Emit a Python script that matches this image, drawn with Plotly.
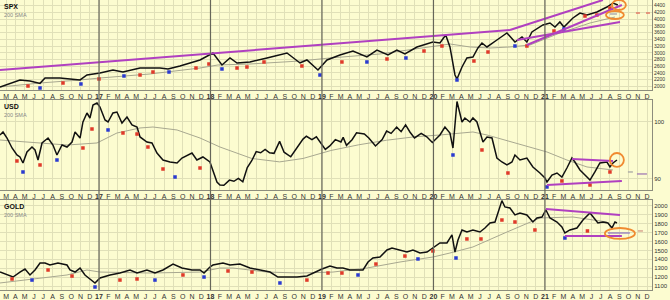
import plotly.graph_objects as go

# ---------------- data (time in decimal years) ----------------
spx_t = [2016.112, 2016.291, 2016.381, 2016.471, 2016.516, 2016.650, 2016.740, 2016.830, 2016.892,
         2017.009, 2017.125, 2017.215, 2017.368, 2017.547, 2017.619, 2017.726, 2017.906,
         2018.022, 2018.103, 2018.175, 2018.238, 2018.354, 2018.507, 2018.686, 2018.803, 2018.865, 2018.964,
         2019.045, 2019.161, 2019.278, 2019.403, 2019.493, 2019.592, 2019.672, 2019.744, 2019.852, 2019.995,
         2020.058, 2020.110, 2020.148, 2020.193, 2020.211, 2020.256, 2020.300, 2020.354, 2020.399, 2020.435,
         2020.480, 2020.569, 2020.659, 2020.731, 2020.794, 2020.838, 2020.883, 2020.982,
         2021.045, 2021.090, 2021.134, 2021.170, 2021.251, 2021.314, 2021.377, 2021.466, 2021.556, 2021.610, 2021.654]
spx_v = [1982, 2191, 2161, 2090, 2250, 2250, 2220, 2191, 2339,
         2399, 2488, 2428, 2547, 2547, 2518, 2607, 2785,
         2993, 2637, 2845, 2696, 2726, 2845, 2993, 2696, 2785, 2488,
         2785, 2934, 3053, 2875, 3082, 2934, 3082, 2964, 3172, 3320,
         3291, 3528, 3172, 2339, 2220, 2577, 2845, 2874, 3142, 3291,
         3172, 3380, 3588, 3320, 3469, 3320, 3618, 3826,
         3885, 3766, 3915, 3766, 4034, 4182, 4123, 4212, 4361, 4480, 4420]
spx_sma_t = [2016.112, 2016.471, 2016.830, 2017.009, 2017.457, 2017.906, 2018.067, 2018.354, 2018.803,
             2019.072, 2019.520, 2019.968, 2020.148, 2020.327, 2020.507, 2020.686, 2020.865,
             2021.134, 2021.404, 2021.628]
spx_sma_v = [1982, 2101, 2191, 2250, 2369, 2547, 2637, 2666, 2755,
             2845, 2964, 3172, 3261, 3172, 3142, 3172, 3231,
             3588, 3885, 4063]

usd_t = [2016.112, 2016.139, 2016.175, 2016.220, 2016.264, 2016.291, 2016.318, 2016.354, 2016.399, 2016.426,
         2016.453, 2016.489, 2016.543, 2016.587, 2016.623, 2016.668, 2016.713, 2016.758, 2016.785, 2016.830,
         2016.856, 2016.892, 2016.919, 2016.946, 2016.982, 2017.009, 2017.054, 2017.081, 2017.125, 2017.161,
         2017.206, 2017.251, 2017.296, 2017.341, 2017.368, 2017.430, 2017.475, 2017.520, 2017.574, 2017.637,
         2017.700, 2017.744, 2017.834, 2017.878, 2017.932, 2017.995, 2018.058, 2018.085,
         2018.12, 2018.17, 2018.21, 2018.25, 2018.29, 2018.33, 2018.37, 2018.41, 2018.45, 2018.49, 2018.53,
         2018.57, 2018.62, 2018.66, 2018.72, 2018.77, 2018.83, 2018.86, 2018.91, 2018.95, 2018.99,
         2019.03, 2019.07, 2019.12, 2019.17, 2019.19, 2019.22, 2019.27, 2019.31, 2019.38, 2019.42, 2019.48,
         2019.54, 2019.58, 2019.62, 2019.67, 2019.71, 2019.75, 2019.79, 2019.83, 2019.89, 2019.94, 2019.99,
         2020.04, 2020.058, 2020.103, 2020.148, 2020.175, 2020.211, 2020.256, 2020.282, 2020.327, 2020.354,
         2020.390, 2020.417, 2020.444, 2020.480, 2020.525, 2020.569, 2020.614, 2020.659, 2020.704, 2020.731,
         2020.776, 2020.838, 2020.892, 2020.955, 2021.000, 2021.018, 2021.063, 2021.108, 2021.152, 2021.197,
         2021.242, 2021.269, 2021.314, 2021.377, 2021.404, 2021.448, 2021.493, 2021.556, 2021.583, 2021.610,
         2021.646]
usd_v = [97.72, 98.25, 97.19, 95.44, 94.21, 93.86, 92.81, 94.74, 95.61, 95.09,
         93.33, 96.32, 97.19, 95.96, 94.21, 95.96, 95.61, 96.49, 98.25, 97.19,
         100.0, 101.58, 100.70, 102.98, 103.33, 102.63, 100.35, 100.0, 101.58, 101.75,
         99.82, 100.88, 99.47, 99.12, 97.37, 96.49, 96.32, 94.56, 93.33, 92.98,
         92.81, 93.68, 94.56, 93.33, 93.86, 92.98, 89.47, 88.95,
         88.9, 89.8, 89.6, 90.1, 89.5, 92.0, 93.2, 94.8, 94.6, 95.2, 94.6,
         94.5, 96.6, 94.7, 93.9, 95.3, 97.0, 97.5, 96.9, 97.4, 96.2,
         95.2, 95.8, 96.9, 96.5, 97.3, 95.9, 96.9, 98.1, 97.9, 97.2, 95.8,
         96.9, 98.4, 98.0, 99.1, 98.3, 99.5, 98.2, 97.2, 98.0, 97.4, 96.4,
         97.3, 97.72, 99.12, 98.07, 95.44, 103.6, 100.0, 100.7, 100.0, 100.7,
         100.0, 98.25, 96.49, 97.37, 97.19, 93.68, 92.98, 92.46, 92.98, 94.21,
         93.33, 93.68, 92.11, 91.05, 90.18, 89.47, 90.70, 91.05, 90.35, 91.93,
         93.68, 92.98, 91.58, 90.35, 89.82, 91.23, 92.81, 92.98, 92.11, 92.81,
         93.33]
usd_sma_t = [2016.112, 2016.713, 2016.982, 2017.161, 2017.368, 2017.484, 2017.700, 2017.906, 2018.085,
             2018.37, 2018.62, 2018.83, 2019.08, 2019.33, 2019.58, 2019.83, 2020.058, 2020.354, 2020.480,
             2020.803, 2021.018, 2021.197, 2021.377, 2021.610]
usd_sma_v = [96.84, 95.96, 96.32, 98.07, 98.95, 99.12, 98.6, 97.19, 95.61,
             93.6, 93.0, 93.6, 95.0, 96.0, 96.8, 97.4, 97.72, 98.25, 97.72,
             95.96, 94.74, 93.33, 92.11, 91.58]

gold_t = [2016.112, 2016.175, 2016.229, 2016.291, 2016.336, 2016.381, 2016.426, 2016.471, 2016.516, 2016.560,
          2016.632, 2016.713, 2016.740, 2016.785, 2016.830, 2016.874, 2016.937, 2016.964, 2017.009, 2017.099,
          2017.188, 2017.278, 2017.341, 2017.430, 2017.502, 2017.574, 2017.664, 2017.744, 2017.834, 2017.906,
          2017.942, 2017.995, 2018.022, 2018.112, 2018.175, 2018.264, 2018.354, 2018.444, 2018.534, 2018.605,
          2018.686, 2018.776, 2018.865, 2018.919, 2019.000, 2019.072, 2019.134, 2019.188, 2019.251, 2019.314,
          2019.368, 2019.413, 2019.457, 2019.520, 2019.583, 2019.628, 2019.700, 2019.762, 2019.816, 2019.879,
          2019.942, 2019.995, 2020.058, 2020.121, 2020.166, 2020.193, 2020.220, 2020.256, 2020.300, 2020.354,
          2020.417, 2020.462, 2020.507, 2020.552, 2020.578, 2020.614, 2020.641, 2020.686, 2020.731, 2020.776,
          2020.838, 2020.892, 2020.928, 2020.973, 2021.009, 2021.045, 2021.108, 2021.152, 2021.179, 2021.224,
          2021.287, 2021.341, 2021.404, 2021.430, 2021.475, 2021.520, 2021.565, 2021.601, 2021.628, 2021.646]
gold_v = [1257, 1224, 1201, 1257, 1291, 1224, 1280, 1359, 1359, 1336,
          1359, 1336, 1280, 1257, 1302, 1224, 1167, 1134, 1190, 1224,
          1246, 1280, 1246, 1280, 1246, 1280, 1347, 1302, 1280, 1280,
          1246, 1314, 1336, 1359, 1336, 1347, 1302, 1280, 1257, 1201,
          1201, 1201, 1212, 1246, 1291, 1325, 1302, 1302, 1280, 1280,
          1280, 1370, 1415, 1426, 1505, 1527, 1505, 1482, 1505, 1471,
          1482, 1527, 1584, 1584, 1674, 1482, 1617, 1730, 1707, 1730,
          1707, 1752, 1809, 1820, 1921, 2060, 1989, 1977, 1899, 1921,
          1899, 1820, 1865, 1876, 1955, 1865, 1820, 1764, 1696, 1730,
          1752, 1842, 1921, 1876, 1809, 1820, 1809, 1752, 1820, 1809]
gold_sma_t = [2016.112, 2016.713, 2016.892, 2017.009, 2017.457, 2017.906, 2018.085, 2018.202, 2018.507,
              2018.803, 2019.099, 2019.403, 2019.700, 2019.995, 2020.148, 2020.354, 2020.659, 2020.955,
              2021.251, 2021.556]
gold_sma_v = [1134, 1224, 1280, 1257, 1246, 1257, 1302, 1302, 1257,
              1246, 1257, 1302, 1370, 1426, 1471, 1539, 1707, 1865,
              1876, 1820]

# pivot markers
spx_red_t = [2016.363, 2016.677, 2017.000, 2017.368, 2017.484, 2017.870, 2017.986, 2018.238, 2018.327, 2018.480,
             2018.820, 2019.179, 2019.583, 2019.915, 2020.076, 2020.363, 2020.489, 2020.838, 2021.081, 2021.359,
             2021.466, 2021.583]
spx_red_v = [2012, 2101, 2220, 2339, 2428, 2547, 2666, 2547, 2577, 2726,
             2607, 2726, 2815, 3053, 3201, 2755, 3023, 3201, 3647, 4093,
             4123, 4331]
spx_blue_t = [2016.471, 2016.838, 2017.224, 2017.628, 2018.103, 2018.982, 2019.403, 2019.753, 2020.211, 2020.731, 2021.170]
spx_blue_v = [1953, 2072, 2310, 2428, 2518, 2339, 2726, 2845, 2191, 3201, 3707]
usd_red_t = [2016.264, 2016.471, 2016.856, 2016.937, 2017.215, 2017.341, 2017.439, 2017.574, 2017.906,
             2020.435, 2020.668, 2021.152, 2021.404, 2021.583]
usd_red_v = [93.16, 92.46, 95.44, 98.77, 98.07, 97.89, 95.61, 91.75, 91.93,
             95.09, 91.05, 89.65, 88.95, 91.23]
usd_blue_t = [2016.318, 2016.623, 2017.081, 2017.682, 2020.175, 2021.018]
usd_blue_v = [91.23, 93.33, 98.6, 90.35, 94.21, 88.6]
gold_red_t = [2016.220, 2016.543, 2016.758, 2017.188, 2017.341, 2017.753, 2018.157, 2018.372, 2018.865,
              2019.054, 2019.179, 2019.484, 2019.744, 2019.995, 2020.300, 2020.426, 2020.614, 2020.731,
              2020.910, 2021.381]
gold_red_v = [1179, 1280, 1212, 1167, 1179, 1224, 1269, 1257, 1167,
              1246, 1246, 1347, 1437, 1494, 1629, 1629, 1842, 1820,
              1730, 1719]
gold_blue_t = [2016.399, 2016.964, 2017.502, 2017.942, 2018.623, 2019.323, 2019.861, 2020.202, 2021.179]
gold_blue_v = [1167, 1089, 1167, 1201, 1134, 1224, 1404, 1415, 1640]

# drawn trendlines: (t0, v0, t1, v1)
spx_lines = [(2016.112, 2488, 2020.686, 3677), (2020.686, 3677, 2021.520, 4569),
             (2020.838, 3231, 2021.690, 4420), (2020.749, 3380, 2021.673, 3915)]
usd_lines = [(2021.242, 93.51, 2021.610, 93.16), (2021.018, 88.95, 2021.690, 89.65)]
gold_lines = [(2021.009, 1966, 2021.673, 1899), (2021.179, 1662, 2021.690, 1662)]
# highlight ellipses: (t0, t1, v0, v1)
spx_ellipses = [(2021.601, 2021.726, 4272, 4569), (2021.547, 2021.708, 4004, 4242)]
usd_ellipses = [(2021.583, 2021.708, 92.11, 94.56)]
gold_ellipses = [(2021.538, 2021.807, 1629, 1752)]
# short level marks: (t0, t1, value, colour)
spx_marks = [(2021.583, 2021.646, 4153, '#9a9aa8'), (2021.816, 2021.852, 4182, '#e06050'),
             (2021.906, 2021.942, 4182, '#e06050')]
usd_marks = [(2021.744, 2021.789, 91.23, '#a0a0a0'), (2021.825, 2021.915, 90.88, '#9a70b0')]
gold_marks = [(2021.565, 2021.762, 1696, '#8a70c0'), (2021.834, 2021.879, 1719, '#d09080')]

years = [2016, 2017, 2018, 2019, 2020, 2021]
month_initials = ['J', 'F', 'M', 'A', 'M', 'J', 'J', 'A', 'S', 'O', 'N', 'D']
spx_ticks = list(range(2000, 4600, 200))
usd_ticks = [90, 100]
gold_ticks = list(range(1100, 2100, 100))

# ---------------- styling ----------------
BG = '#fcfcd0'
GRID = '#e0e0b8'
FRAME = '#8c8c7c'
PRICE = '#111111'
SMA = '#a8a890'
PURPLE = '#b040c0'
ORANGE = '#f08a30'
RED = '#e03a2a'
BLUE = '#2a3ad0'
T0, T1 = 2016.112, 2021.960

mt_vals, mt_text = [], []
for y in years:
    for m in range(12):
        mt_vals.append(y + m / 12)
        mt_text.append('<b>%02d</b>' % (y % 100) if m == 0 else month_initials[m])

fig = go.Figure()
panels = [
    ('x', 'y', spx_t, spx_v, spx_sma_t, spx_sma_v, spx_red_t, spx_red_v, spx_blue_t, spx_blue_v),
    ('x2', 'y2', usd_t, usd_v, usd_sma_t, usd_sma_v, usd_red_t, usd_red_v, usd_blue_t, usd_blue_v),
    ('x3', 'y3', gold_t, gold_v, gold_sma_t, gold_sma_v, gold_red_t, gold_red_v, gold_blue_t, gold_blue_v),
]
for xa, ya, t, v, st, sv, rt, rv, bt, bv in panels:
    fig.add_trace(go.Scatter(x=st, y=sv, mode='lines', line=dict(color=SMA, width=1), xaxis=xa, yaxis=ya))
    fig.add_trace(go.Scatter(x=t, y=v, mode='lines', line=dict(color=PRICE, width=1.5), xaxis=xa, yaxis=ya))
    fig.add_trace(go.Scatter(x=rt, y=rv, mode='markers', marker=dict(symbol='square', size=3.5, color=RED),
                             xaxis=xa, yaxis=ya))
    fig.add_trace(go.Scatter(x=bt, y=bv, mode='markers', marker=dict(symbol='square', size=3.5, color=BLUE),
                             xaxis=xa, yaxis=ya))

shapes = []
for xr, yr, lines, ells, marks in [('x', 'y', spx_lines, spx_ellipses, spx_marks),
                                   ('x2', 'y2', usd_lines, usd_ellipses, usd_marks),
                                   ('x3', 'y3', gold_lines, gold_ellipses, gold_marks)]:
    for t0, v0, t1, v1 in lines:
        shapes.append(dict(type='line', xref=xr, yref=yr, x0=t0, y0=v0, x1=t1, y1=v1,
                           line=dict(color=PURPLE, width=2)))
    for t0, t1, v0, v1 in ells:
        shapes.append(dict(type='circle', xref=xr, yref=yr, x0=t0, x1=t1, y0=v0, y1=v1,
                           line=dict(color=ORANGE, width=1.8)))
    for t0, t1, v, c in marks:
        shapes.append(dict(type='line', xref=xr, yref=yr, x0=t0, x1=t1, y0=v, y1=v,
                           line=dict(color=c, width=1.2)))
for y in years[1:]:
    shapes.append(dict(type='line', xref='x', yref='paper', x0=y, x1=y, y0=0.0333, y1=1,
                       line=dict(color='#66665a', width=1.2), layer='above'))

xcommon = dict(range=[T0, T1], tickvals=mt_vals, ticktext=mt_text, showgrid=True, gridcolor=GRID, gridwidth=1,
               zeroline=False, showline=True, mirror=True, linecolor=FRAME, linewidth=1, ticks='',
               tickfont=dict(size=7, color='#333333', family='Arial'), fixedrange=True)
ycommon = dict(side='right', showline=True, mirror=True, linecolor=FRAME, zeroline=False, ticks='',
               tickfont=dict(size=6, color='#333333', family='Arial'), gridcolor=GRID, showgrid=True)

fig.update_layout(
    width=670, height=300, margin=dict(l=0, r=0, t=0, b=0),
    paper_bgcolor=BG, plot_bgcolor=BG, showlegend=False,
    xaxis=dict(domain=[0, 0.9731], anchor='y', **xcommon),
    xaxis2=dict(domain=[0, 0.9731], anchor='y2', matches='x', **xcommon),
    xaxis3=dict(domain=[0, 0.9731], anchor='y3', matches='x', **xcommon),
    yaxis=dict(domain=[0.70, 1.0], range=[1893, 4569], tickvals=spx_ticks, anchor='x',
               **{**ycommon, 'tickfont': dict(size=5, color='#333333', family='Arial')}),
    yaxis2=dict(domain=[0.3667, 0.6667], range=[88.07, 103.86], tickvals=usd_ticks, anchor='x2', **ycommon),
    yaxis3=dict(domain=[0.0333, 0.3333], range=[1055, 2067], tickvals=gold_ticks, anchor='x3', **ycommon),
    shapes=shapes,
)
for label, ytop in [('SPX', 1.0), ('USD', 0.6667), ('GOLD', 0.3333)]:
    fig.add_annotation(xref='paper', yref='paper', x=0.003, y=ytop - 0.003, xanchor='left', yanchor='top',
                       text='<b>%s</b>' % label, showarrow=False, font=dict(size=7, color='#111111', family='Arial'))
    fig.add_annotation(xref='paper', yref='paper', x=0.003, y=ytop - 0.033, xanchor='left', yanchor='top',
                       text='200 SMA', showarrow=False, font=dict(size=5.5, color='#888888', family='Arial'))

fig.write_html("out.html")
